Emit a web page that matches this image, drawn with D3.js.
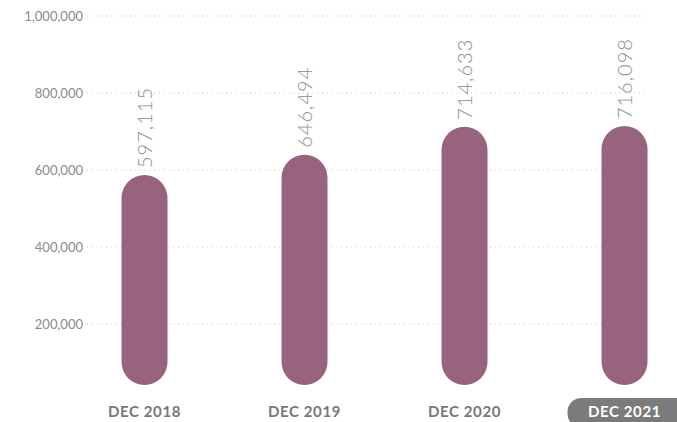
<!DOCTYPE html>
<html>
<head>
<meta charset="utf-8">
<script src="https://cdn.jsdelivr.net/npm/d3@7"></script>
<style>
  body { margin: 0; background: #fff; }
  svg { display: block; font-family: "Lato", "Open Sans", sans-serif; }
</style>
</head>
<body>
<svg id="chart"></svg>
<script>
// chart data
var categories = ["DEC 2018", "DEC 2019", "DEC 2020", "DEC 2021"];
var values = [597115, 646494, 714633, 716098];
var yTicks = [200000, 400000, 600000, 800000, 1000000];
var highlighted = "DEC 2021";

var width = 677, height = 422;
var barWidth = 46;
var barBottom = 385;
var labelGap = 7;

var colors = {
    bar: "#97637f",
    grid: "#c4c4c4",
    axisText: "#8a8a8a",
    valueText: "#8c8c8c",
    catText: "#777777",
    pill: "#7b7b7b"
};

var svg = d3.select("#chart").attr("width", width).attr("height", height);

// gridline scale and bar scale (the bars sit on their own baseline)
var y = d3.scaleLinear().domain([0, 1000000]).range([401, 16]);
var yBar = d3.scaleLinear().domain([0, 1000000]).range([420.4, 9.4]);
var x = d3.scalePoint().domain(categories).range([144.5, 624.5]);

var fmt = d3.format(",");

//gridlines + labels
var grid = svg.append("g");
grid.selectAll("line")
    .data(yTicks)
    .enter()
    .append("line")
    .attr("x1", 87).attr("x2", 648)
    .attr("y1", function(d) { return y(d); })
    .attr("y2", function(d) { return y(d); })
    .attr("stroke", colors.grid)
    .attr("stroke-width", 1)
    .attr("stroke-dasharray", "1,3.8");

grid.selectAll("text")
    .data(yTicks)
    .enter()
    .append("text")
    .attr("x", 83)
    .attr("y", function(d) { return y(d); })
    .attr("dy", "0.35em")
    .attr("text-anchor", "end")
    .attr("font-size", 13)
    .attr("fill", colors.axisText)
    .text(function(d) { return fmt(d); });

// pill bars
var bars = svg.selectAll("g.bar")
    .data(values)
    .enter()
    .append("g")
    .attr("class", "bar");

bars.append("rect")
    .attr("x", function(d, i) { return x(categories[i]) - barWidth / 2; })
    .attr("y", function(d) { return yBar(d); })
    .attr("width", barWidth)
    .attr("height", function(d) { return barBottom - yBar(d); })
    .attr("rx", barWidth / 2)
    .attr("fill", colors.bar);

bars.append("text")
    .attr("transform", function(d, i) {
        return "translate(" + x(categories[i]) + "," + (yBar(d) - labelGap) + ") rotate(-90)";
    })
    .attr("dy", "0.36em")
    .attr("text-anchor", "start")
    .attr("font-size", 20)
    .attr("font-weight", 300)
    .attr("letter-spacing", 1)
    .attr("fill", colors.valueText)
    .text(function(d) { return fmt(d); });

// category labels
var cats = svg.selectAll("g.cat")
    .data(categories)
    .enter()
    .append("g")
    .attr("class", "cat");

cats.filter(function(d) { return d == highlighted; })
    .append("rect")
    .attr("x", function(d) { return x(d) - 57; })
    .attr("y", 398)
    .attr("width", 130)
    .attr("height", 30)
    .attr("rx", 14)
    .attr("fill", colors.pill);

cats.append("text")
    .attr("x", function(d) { return x(d); })
    .attr("y", 416.5)
    .attr("text-anchor", "middle")
    .attr("font-size", 15)
    .attr("font-weight", "bold")
    .attr("letter-spacing", 0.6)
    .attr("fill", function(d) { return d == highlighted ? "#fff" : colors.catText; })
    .text(function(d) { return d; });
</script>
</body>
</html>
